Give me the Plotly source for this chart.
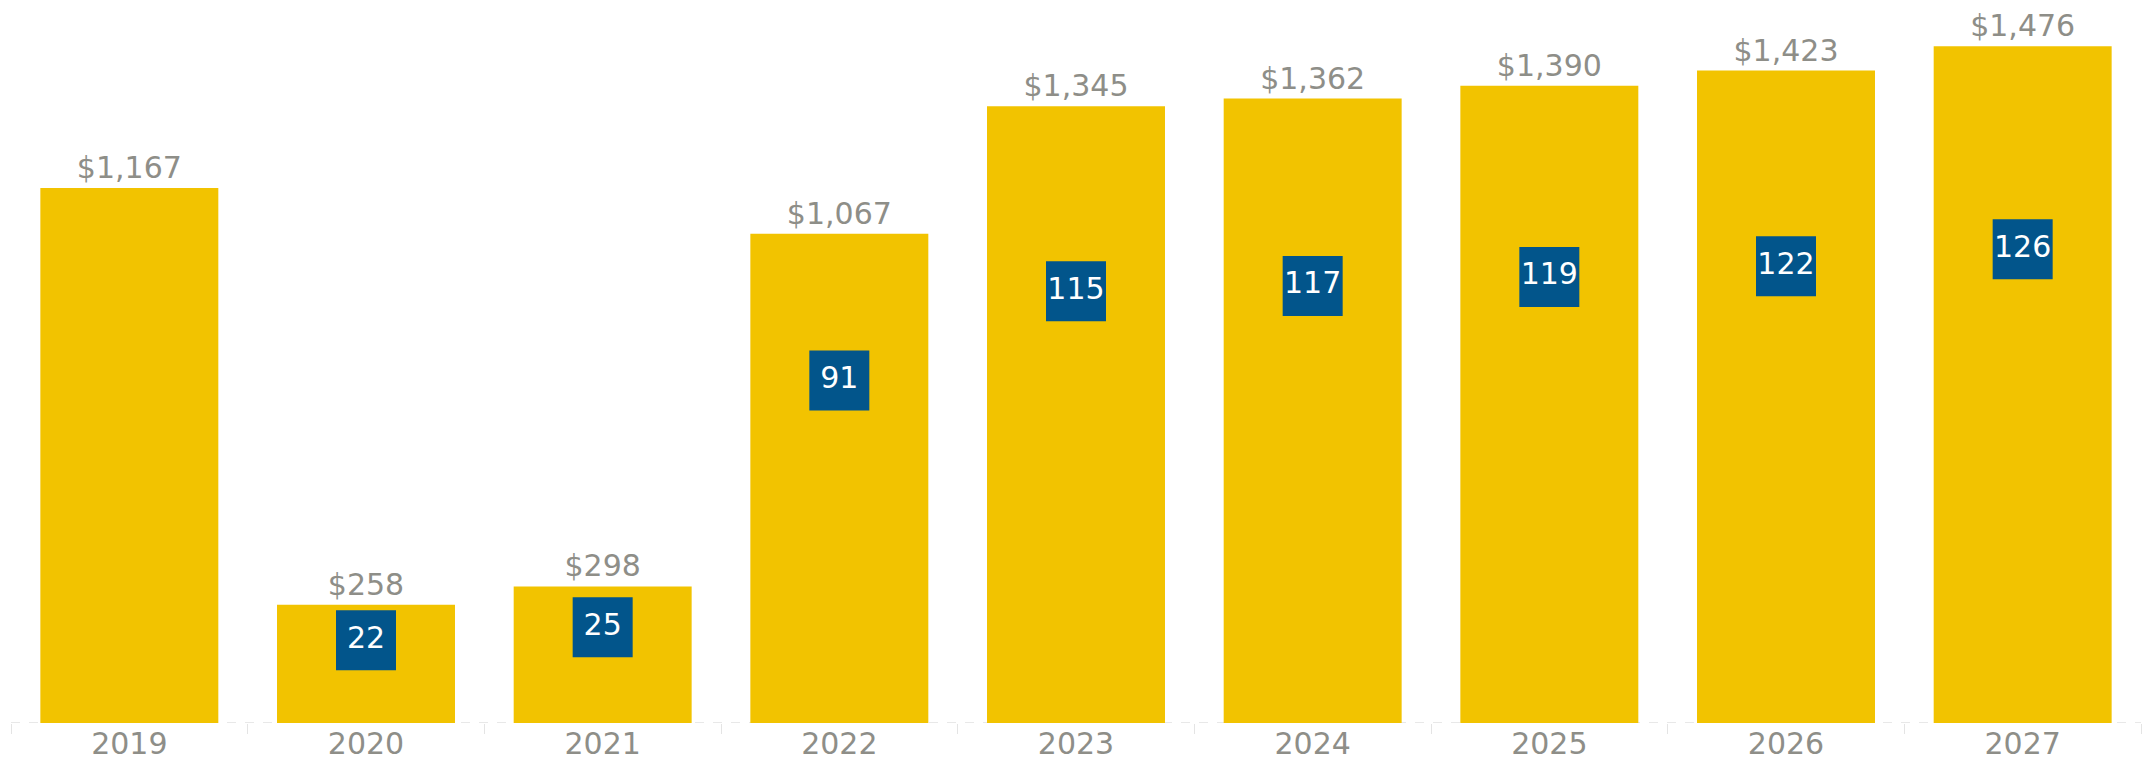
import plotly.graph_objects as go

# --- dados ---
years = ["2019", "2020", "2021", "2022", "2023", "2024", "2025", "2026", "2027"]
totals = [1167, 258, 298, 1067, 1345, 1362, 1390, 1423, 1476]
counts = [None, 22, 25, 91, 115, 117, 119, 122, 126]

YELLOW = "#F2C300"
BLUE = "#02558B"
GREY = "#8E8E88"
FONT = "DejaVu Sans"

fig = go.Figure()

fig.add_trace(go.Bar(
    x=years, y=totals,
    marker=dict(color=YELLOW, line=dict(width=0)),
    text=[f"${v:,}" for v in totals],
    textposition="outside",
    textfont=dict(size=30, color=GREY, family=FONT),
    cliponaxis=False,
    hoverinfo="skip",
))

# caixas azuis a 70% da altura da barra
bx = [y for y, c in zip(years, counts) if c is not None]
by = [t * 0.7 for t, c in zip(totals, counts) if c is not None]
bt = [str(c) for c in counts if c is not None]
fig.add_trace(go.Scatter(
    x=bx, y=by, mode="markers+text",
    marker=dict(symbol="square", size=60, color=BLUE, line=dict(width=0)),
    text=bt, textposition="middle center",
    textfont=dict(size=30, color="white", family=FONT),
    cliponaxis=False,
    hoverinfo="skip",
))

# linha de base tracejada
fig.add_shape(type="line", xref="paper", yref="y", x0=0, x1=1, y0=0, y1=0,
              line=dict(color="#D0D0D0", width=1, dash="dash"), layer="below")

fig.update_layout(
    width=2143, height=768,
    paper_bgcolor="white", plot_bgcolor="white",
    showlegend=False,
    bargap=0.248,
    margin=dict(l=11, r=2, t=0, b=45),
    font=dict(family=FONT, color=GREY),
    xaxis=dict(
        type="category", range=[-0.5, 8.5], autorange=False,
        showgrid=False, zeroline=False, showline=False,
        ticks="outside", tickson="boundaries", ticklen=10, tickcolor="#E4E4E4", tickwidth=1,
        tickfont=dict(size=30, color=GREY, family=FONT),
    ),
    yaxis=dict(range=[0, 1577], visible=False, showgrid=False, zeroline=False),
    modebar=dict(bgcolor="rgba(0,0,0,0)", color="rgba(0,0,0,0)", activecolor="rgba(0,0,0,0)"),
)

fig.write_html(
    "out.html",
    post_script=(
        "document.body.style.margin='0';"
        "document.querySelectorAll('.modebar-container').forEach(function(m){m.style.display='none';});"
    ),
)
